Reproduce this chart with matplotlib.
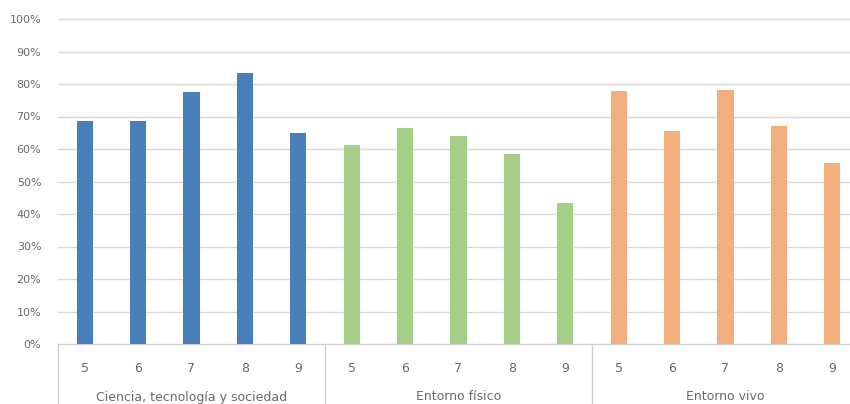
import matplotlib
matplotlib.use("Agg")
import matplotlib.pyplot as plt
import matplotlib.transforms as mtransforms
from matplotlib.ticker import PercentFormatter

# share of students per grade, by content block
groups = ["Ciencia, tecnología y sociedad", "Entorno físico", "Entorno vivo"]
grades = ["5", "6", "7", "8", "9"]
ciencia = [0.687, 0.685, 0.774, 0.835, 0.650]
fisico = [0.612, 0.666, 0.640, 0.585, 0.433]
vivo = [0.779, 0.656, 0.781, 0.671, 0.558]
colors = ["#4a7ebb", "#a5cf87", "#f2ae7c"]

fig = plt.figure(figsize=(8.5, 4.04), dpi=100)
W, H = 850, 404
x0, y0, ytop = 58, 344, 19
top = 1.01
ax = fig.add_axes([x0 / W, (H - y0) / H, (W - x0) / W, (y0 - ytop) * top / H])

series = [ciencia, fisico, vivo]
pos = 0
xticks, xlabels = [], []
for vals, c in zip(series, colors):
    xs = list(range(pos, pos + len(vals)))
    ax.bar(xs, vals, width=0.3, color=c, zorder=3)
    xticks += xs
    xlabels += grades
    pos += len(vals)

slot = 53.4
ax.set_xlim(-0.5, -0.5 + (W - x0) / slot)
ax.set_ylim(0, top)
ax.set_yticks([i / 10 for i in range(11)])
ax.yaxis.set_major_formatter(PercentFormatter(1.0, decimals=0))
ax.grid(axis="y", color="#d9d9d9", linewidth=1, zorder=0)
for s in ["top", "right", "left"]:
    ax.spines[s].set_visible(False)
ax.spines["bottom"].set_color("#d0d0d0")

ax.set_xticks(xticks)
ax.set_xticklabels(xlabels)
ax.tick_params(axis="x", length=0, pad=13, labelsize=9, labelcolor="#6a6a6a")
ax.tick_params(axis="y", length=0, pad=12, labelsize=8, labelcolor="#6a6a6a")

# category separators and group names under the axis
trans = mtransforms.blended_transform_factory(ax.transData, ax.transAxes)
drop = -(H - y0) / ((y0 - ytop) * top)
for b in [-0.5, 4.5, 9.5, 14.5]:
    ax.plot([b, b], [0, drop], transform=trans, color="#d0d0d0",
            linewidth=1, clip_on=False)
gtrans = mtransforms.blended_transform_factory(ax.transData, fig.transFigure)
for i, g in enumerate(groups):
    ax.text(i * 5 + 2, (H - 397) / H, g, transform=gtrans, ha="center",
            va="center", fontsize=9, color="#6a6a6a")

fig.savefig("out.png", dpi=100)
